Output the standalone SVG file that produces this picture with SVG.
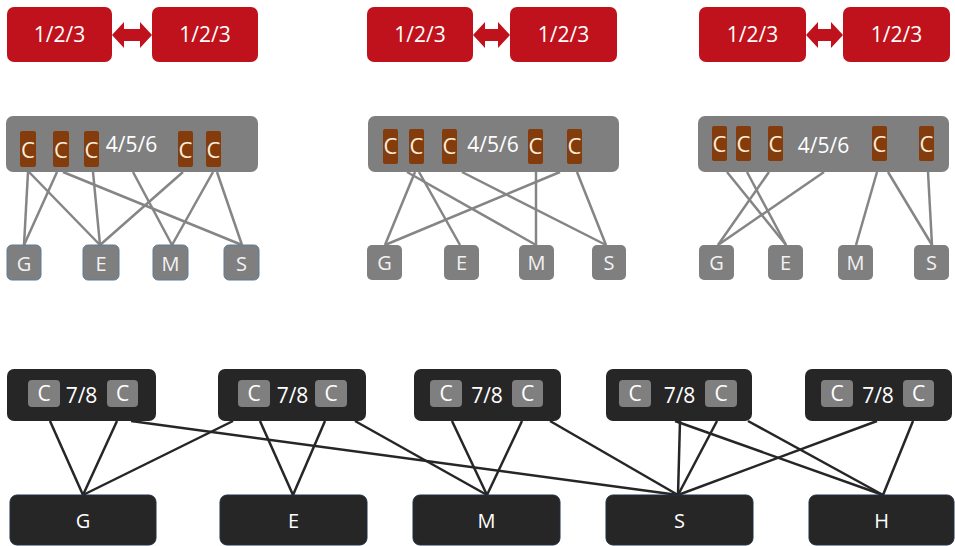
<svg xmlns="http://www.w3.org/2000/svg" width="955" height="546" viewBox="0 0 955 546">
<style>
text{font-family:"Open Sans","Noto Sans",sans-serif;text-anchor:middle}
.red{fill:#c0121c}
.rt{fill:#ffffff;font-size:21px}
.gbox{fill:#7f7f7f}
.brown{fill:#843c0c}
.ct{fill:#fbeedd;font-size:22px}
.gt{fill:#ffffff;font-size:21px}
.sg{fill:#7f7f7f}
.sgb{fill:#7f7f7f;stroke:#5f7d99;stroke-width:1}
.st{fill:#f2f2f2;font-size:20px}
.dk{fill:#262626}
.dkb{fill:#262626;stroke:#1e2e44;stroke-width:1}
.sq{fill:#7f7f7f}
.wt{fill:#ffffff;font-size:21px}
.bt{fill:#ffffff;font-size:20px}
.gl{stroke:#858585;stroke-width:2.5;fill:none}
.bl{stroke:#262626;stroke-width:2.5;fill:none}
</style>
<rect width="955" height="546" fill="#ffffff"/>

<!-- Top red pairs -->
<g id="red1a"><rect class="red" x="7" y="7" width="105" height="55" rx="7"/><text class="rt" x="59.5" y="42">1/2/3</text></g>
<g id="red1b"><rect class="red" x="152" y="7" width="106" height="55" rx="7"/><text class="rt" x="205" y="42">1/2/3</text></g>
<g id="red2a"><rect class="red" x="367" y="7" width="106" height="55" rx="7"/><text class="rt" x="420" y="42">1/2/3</text></g>
<g id="red2b"><rect class="red" x="510" y="7" width="107" height="55" rx="7"/><text class="rt" x="563.5" y="42">1/2/3</text></g>
<g id="red3a"><rect class="red" x="699" y="7" width="107" height="55" rx="7"/><text class="rt" x="752.5" y="42">1/2/3</text></g>
<g id="red3b"><rect class="red" x="843" y="7" width="107" height="55" rx="7"/><text class="rt" x="896.5" y="42">1/2/3</text></g>

<!-- Connectors -->
<g id="connectors">
  <polygon class="red" points="112,35 124,22 124,29 140,29 140,22 152,35 140,48 140,41 124,41 124,48"/>
  <polygon class="red" points="473,35 485,22 485,29 498,29 498,22 510,35 498,48 498,41 485,41 485,48"/>
  <polygon class="red" points="806,35 818,22 818,29 831,29 831,22 843,35 831,48 831,41 818,41 818,48"/>

  <g class="gl">
    <line x1="28" y1="172" x2="24" y2="245"/>
    <line x1="29" y1="172" x2="100" y2="245"/>
    <line x1="57" y1="172" x2="24" y2="245"/>
    <line x1="63" y1="172" x2="242" y2="245"/>
    <line x1="93" y1="172" x2="100" y2="245"/>
    <line x1="133" y1="172" x2="172" y2="245"/>
    <line x1="183" y1="172" x2="100" y2="245"/>
    <line x1="213" y1="172" x2="172" y2="245"/>
    <line x1="217" y1="172" x2="242" y2="245"/>

    <line x1="407" y1="172" x2="536" y2="245"/>
    <line x1="415" y1="172" x2="385" y2="245"/>
    <line x1="419" y1="172" x2="460" y2="245"/>
    <line x1="462" y1="172" x2="606" y2="245"/>
    <line x1="536" y1="172" x2="536" y2="245"/>
    <line x1="560" y1="172" x2="385" y2="245"/>
    <line x1="577" y1="172" x2="606" y2="245"/>

    <line x1="727" y1="172" x2="786" y2="245"/>
    <line x1="747" y1="172" x2="786" y2="245"/>
    <line x1="769" y1="172" x2="718" y2="245"/>
    <line x1="824" y1="172" x2="718" y2="245"/>
    <line x1="877" y1="172" x2="856" y2="245"/>
    <line x1="888" y1="172" x2="932" y2="245"/>
    <line x1="928" y1="172" x2="932" y2="245"/>
  </g>

  <g class="bl">
    <line x1="50" y1="421" x2="83" y2="495"/>
    <line x1="117" y1="421" x2="83" y2="495"/>
    <line x1="131" y1="421" x2="678" y2="495"/>
    <line x1="233" y1="421" x2="83" y2="495"/>
    <line x1="260" y1="421" x2="293" y2="495"/>
    <line x1="325" y1="421" x2="293" y2="495"/>
    <line x1="355" y1="421" x2="487" y2="495"/>
    <line x1="452" y1="421" x2="487" y2="495"/>
    <line x1="522" y1="421" x2="487" y2="495"/>
    <line x1="550" y1="421" x2="678" y2="495"/>
    <line x1="680" y1="421" x2="678" y2="495"/>
    <line x1="717" y1="421" x2="678" y2="495"/>
    <line x1="675" y1="421" x2="883" y2="495"/>
    <line x1="748" y1="421" x2="883" y2="495"/>
    <line x1="877" y1="421" x2="678" y2="495"/>
    <line x1="913" y1="421" x2="883" y2="495"/>
  </g>
</g>

<!-- 4/5/6 group boxes -->
<g id="mid1">
  <rect class="gbox" x="6" y="116" width="252" height="56" rx="7"/>
  <rect class="brown" x="20" y="131" width="16" height="36" rx="2"/><text class="ct" x="28" y="158">C</text>
  <rect class="brown" x="53" y="131" width="16" height="36" rx="2"/><text class="ct" x="61" y="158">C</text>
  <rect class="brown" x="84" y="131" width="15" height="36" rx="2"/><text class="ct" x="91.5" y="158">C</text>
  <text class="gt" x="131.5" y="152">4/5/6</text>
  <rect class="brown" x="178" y="131" width="15" height="36" rx="2"/><text class="ct" x="185.5" y="158">C</text>
  <rect class="brown" x="206" y="131" width="15" height="36" rx="2"/><text class="ct" x="213.5" y="158">C</text>
</g>
<g id="mid2">
  <rect class="gbox" x="368" y="116" width="251" height="56" rx="7"/>
  <rect class="brown" x="383" y="129" width="15" height="35" rx="2"/><text class="ct" x="390.5" y="154">C</text>
  <rect class="brown" x="409" y="129" width="15" height="35" rx="2"/><text class="ct" x="416.5" y="154">C</text>
  <rect class="brown" x="442" y="129" width="15" height="35" rx="2"/><text class="ct" x="449.5" y="154">C</text>
  <text class="gt" x="493" y="152">4/5/6</text>
  <rect class="brown" x="528" y="129" width="15" height="35" rx="2"/><text class="ct" x="535.5" y="154">C</text>
  <rect class="brown" x="567" y="129" width="15" height="35" rx="2"/><text class="ct" x="574.5" y="154">C</text>
</g>
<g id="mid3">
  <rect class="gbox" x="698" y="116" width="251" height="56" rx="7"/>
  <rect class="brown" x="712" y="126" width="15" height="35" rx="2"/><text class="ct" x="719.5" y="152">C</text>
  <rect class="brown" x="736" y="126" width="15" height="35" rx="2"/><text class="ct" x="743.5" y="152">C</text>
  <rect class="brown" x="768" y="126" width="15" height="35" rx="2"/><text class="ct" x="775.5" y="152">C</text>
  <text class="gt" x="823.5" y="153">4/5/6</text>
  <rect class="brown" x="872" y="126" width="15" height="35" rx="2"/><text class="ct" x="879.5" y="152">C</text>
  <rect class="brown" x="919" y="126" width="15" height="35" rx="2"/><text class="ct" x="926.5" y="152">C</text>
</g>

<!-- small G/E/M/S boxes -->
<g id="g1"><rect class="sgb" x="7" y="245" width="34" height="35" rx="5"/><text class="st" x="24" y="271">G</text></g>
<g id="e1"><rect class="sgb" x="83" y="245" width="36" height="35" rx="5"/><text class="st" x="101" y="271">E</text></g>
<g id="m1"><rect class="sgb" x="153" y="245" width="35" height="35" rx="5"/><text class="st" x="170.5" y="271">M</text></g>
<g id="s1"><rect class="sgb" x="224" y="245" width="35" height="35" rx="5"/><text class="st" x="241.5" y="271">S</text></g>

<g id="g2"><rect class="sg" x="367" y="245" width="35" height="35" rx="5"/><text class="st" x="384.5" y="270">G</text></g>
<g id="e2"><rect class="sg" x="444" y="245" width="35" height="35" rx="5"/><text class="st" x="461.5" y="270">E</text></g>
<g id="m2"><rect class="sg" x="519" y="245" width="35" height="35" rx="5"/><text class="st" x="536.5" y="270">M</text></g>
<g id="s2"><rect class="sg" x="592" y="245" width="34" height="35" rx="5"/><text class="st" x="609" y="270">S</text></g>

<g id="g3"><rect class="sg" x="699" y="245" width="35" height="35" rx="5"/><text class="st" x="716.5" y="270">G</text></g>
<g id="e3"><rect class="sg" x="768" y="245" width="35" height="35" rx="5"/><text class="st" x="785.5" y="270">E</text></g>
<g id="m3"><rect class="sg" x="838" y="245" width="35" height="35" rx="5"/><text class="st" x="855.5" y="270">M</text></g>
<g id="s3"><rect class="sg" x="914" y="245" width="35" height="35" rx="5"/><text class="st" x="931.5" y="270">S</text></g>

<!-- 7/8 boxes -->
<g id="sw1">
  <rect class="dk" x="7" y="369" width="149" height="52" rx="7"/>
  <rect class="sq" x="28" y="380" width="32" height="27" rx="4"/><text class="wt" x="44" y="401">C</text>
  <text class="wt" x="81.5" y="403">7/8</text>
  <rect class="sq" x="107" y="380" width="31" height="27" rx="4"/><text class="wt" x="122.5" y="401">C</text>
</g>
<g id="sw2">
  <rect class="dk" x="218" y="369" width="148" height="52" rx="7"/>
  <rect class="sq" x="238" y="380" width="32" height="27" rx="4"/><text class="wt" x="254" y="401">C</text>
  <text class="wt" x="292.5" y="403">7/8</text>
  <rect class="sq" x="315" y="380" width="32" height="27" rx="4"/><text class="wt" x="331" y="401">C</text>
</g>
<g id="sw3">
  <rect class="dk" x="414" y="369" width="147" height="52" rx="7"/>
  <rect class="sq" x="430" y="380" width="32" height="27" rx="4"/><text class="wt" x="446" y="401">C</text>
  <text class="wt" x="487" y="403">7/8</text>
  <rect class="sq" x="512" y="380" width="31" height="27" rx="4"/><text class="wt" x="527.5" y="401">C</text>
</g>
<g id="sw4">
  <rect class="dk" x="606" y="369" width="146" height="52" rx="7"/>
  <rect class="sq" x="619" y="380" width="32" height="27" rx="4"/><text class="wt" x="635" y="401">C</text>
  <text class="wt" x="679.5" y="403">7/8</text>
  <rect class="sq" x="705" y="380" width="32" height="27" rx="4"/><text class="wt" x="721" y="401">C</text>
</g>
<g id="sw5">
  <rect class="dk" x="805" y="369" width="147" height="52" rx="7"/>
  <rect class="sq" x="821" y="380" width="32" height="27" rx="4"/><text class="wt" x="837" y="401">C</text>
  <text class="wt" x="878" y="403">7/8</text>
  <rect class="sq" x="903" y="380" width="31" height="27" rx="4"/><text class="wt" x="918.5" y="401">C</text>
</g>

<!-- bottom boxes -->
<g id="G"><rect class="dkb" x="10" y="495" width="146" height="50" rx="7"/><text class="bt" x="83" y="528">G</text></g>
<g id="E"><rect class="dkb" x="220" y="495" width="147" height="50" rx="7"/><text class="bt" x="293.5" y="528">E</text></g>
<g id="M"><rect class="dkb" x="413" y="495" width="147" height="50" rx="7"/><text class="bt" x="486.5" y="528">M</text></g>
<g id="S"><rect class="dkb" x="606" y="495" width="147" height="50" rx="7"/><text class="bt" x="679.5" y="528">S</text></g>
<g id="H"><rect class="dkb" x="809" y="495" width="145" height="50" rx="7"/><text class="bt" x="881.5" y="528">H</text></g>
</svg>
